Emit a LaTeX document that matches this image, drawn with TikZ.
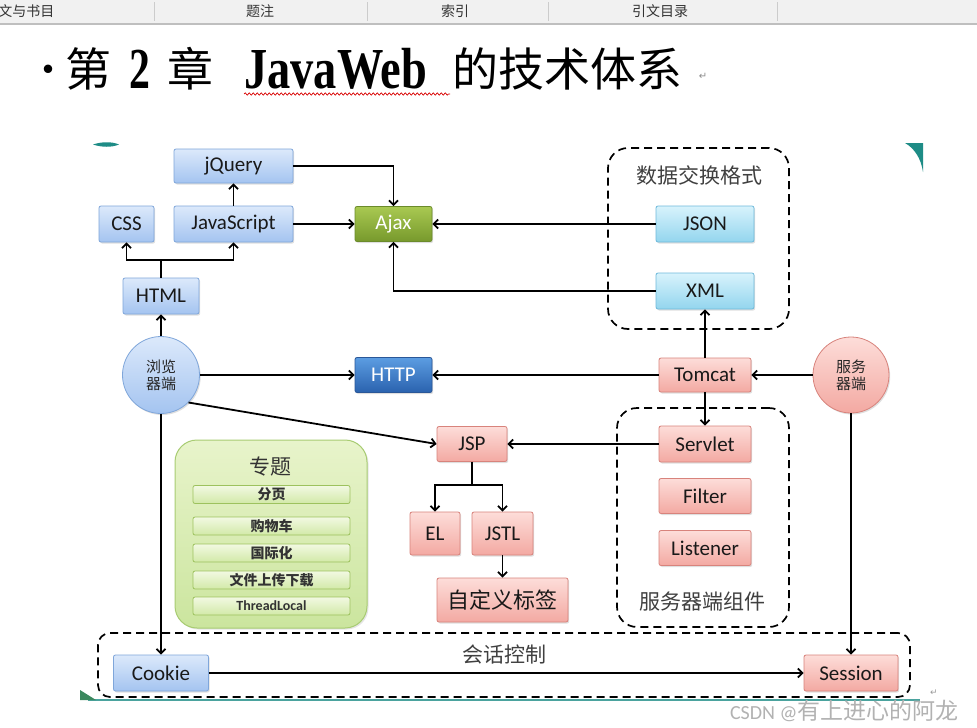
\documentclass[tikz,border=0pt]{standalone}
\usepackage{fontspec}
\usepackage{graphicx}
\setmainfont{Carlito}
\newfontfamily\cjk{Noto Sans CJK SC}
\newfontfamily\serifbold{Liberation Serif}
\newfontfamily\symb{DejaVu Sans}
\usetikzlibrary{shadows}
\usetikzlibrary{arrows.meta}
\usetikzlibrary{decorations.pathmorphing}

\definecolor{bluetop}{HTML}{DCE9FB}
\definecolor{bluebot}{HTML}{A4C4F0}
\definecolor{bluedraw}{HTML}{7FA6DA}
\definecolor{pinktop}{HTML}{FDDDD9}
\definecolor{pinkbot}{HTML}{F3A9A2}
\definecolor{pinkdraw}{HTML}{D8837C}
\definecolor{cyantop}{HTML}{D8F3FC}
\definecolor{cyanbot}{HTML}{93D5EE}
\definecolor{cyandraw}{HTML}{6FBADB}
\definecolor{ajaxtop}{HTML}{A9C952}
\definecolor{ajaxbot}{HTML}{77992C}
\definecolor{ajaxdraw}{HTML}{6B8B2B}
\definecolor{httptop}{HTML}{5C9DE2}
\definecolor{httpbot}{HTML}{2A62AE}
\definecolor{httpdraw}{HTML}{2A5798}
\definecolor{greentop}{HTML}{E8F4CB}
\definecolor{greenbot}{HTML}{CBE59E}
\definecolor{greendraw}{HTML}{A8CC72}
\definecolor{itemtop}{HTML}{F2F9E2}
\definecolor{itembot}{HTML}{D2E9A8}
\definecolor{itemdraw}{HTML}{9DC25E}
\definecolor{slideteal}{HTML}{1E8C86}
\definecolor{barfill}{HTML}{F1F1F1}

\begin{document}
\begin{tikzpicture}[x=1pt, y=-1pt, >={Straight Barb[length=4.5pt, width=9pt]},
    box/.style={rectangle, rounded corners=2pt, line width=0.8pt, inner sep=0pt,
        text=black!90, font=\fontsize{21}{24}\selectfont,
        drop shadow={opacity=0.25, shadow xshift=1.2pt, shadow yshift=-1.5pt}},
    bluebox/.style={box, draw=bluedraw, top color=bluetop, bottom color=bluebot},
    pinkbox/.style={box, draw=pinkdraw, top color=pinktop, bottom color=pinkbot},
    cyanbox/.style={box, draw=cyandraw, top color=cyantop, bottom color=cyanbot},
    ball/.style={circle, line width=0.8pt, inner sep=0pt, minimum size=77pt, align=center,
        font=\cjk\fontsize{15}{17}\selectfont, text=black!85,
        drop shadow={opacity=0.25, shadow xshift=1.2pt, shadow yshift=-1.5pt}},
    frame/.style={draw, dashed, dash pattern=on 8pt off 5pt, line width=1.7pt, rounded corners=20pt, inner sep=0pt},
    topicitem/.style={rectangle, rounded corners=2pt, draw=itemdraw, line width=0.8pt, top color=itemtop,
        bottom color=itembot, minimum width=157pt, minimum height=18pt, inner sep=0pt,
        font=\cjk\bfseries\fontsize{14}{16}\selectfont, text=black!80},
    grouplabel/.style={font=\cjk\fontsize{21}{24}\selectfont, text=black!75}]

  % page and word toolbar
  \useasboundingbox (0,0) rectangle (977,728);
  \fill[white] (0,0) rectangle (977,728);
  \fill[barfill] (0,0) rectangle (977,23);
  \draw[black!25, line width=1.2pt] (0,24) -- (977,24);
  \draw[black!20] (154,2) -- (154,21);
  \draw[black!20] (367,2) -- (367,21);
  \draw[black!20] (548,2) -- (548,21);
  \draw[black!20] (777,2) -- (777,21);
  \node[anchor=east, font=\cjk\fontsize{14}{16}\selectfont, text=black!80] (tab1) at (58,11) {文与书目};
  \node[font=\cjk\fontsize{14}{16}\selectfont, text=black!80] (tab2) at (260,11) {题注};
  \node[font=\cjk\fontsize{14}{16}\selectfont, text=black!80] (tab3) at (455,11) {索引};
  \node[font=\cjk\fontsize{14}{16}\selectfont, text=black!80] (tab4) at (660,11) {引文目录};

  % title line
  \node[font=\cjk\fontsize{40}{44}\selectfont] (dot) at (48,75) {·};
  \node[font=\cjk\fontsize{46}{50}\selectfont] (t1) at (88,69) {第};
  \node[font=\serifbold\bfseries\fontsize{58}{60}\selectfont] (t2) at (140,69) {\scalebox{0.72}[1]{2}};
  \node[font=\cjk\fontsize{46}{50}\selectfont] (t3) at (190,69) {章};
  \node[anchor=west, inner sep=0pt, font=\serifbold\bfseries\fontsize{58}{60}\selectfont] (t4) at (244,69) {\scalebox{0.8}[1]{JavaWeb}};
  \node[anchor=west, inner sep=0pt, font=\cjk\fontsize{46}{50}\selectfont] (t5) at (452,69) {的技术体系};
  \node[font=\symb\fontsize{10}{12}\selectfont, text=black!45] (ret1) at (703,76) {↵};
  \draw[red!85!black, line width=0.7pt, decorate, decoration={snake, amplitude=1.2pt, segment length=4pt}] (244,94) -- (450,94);

  % slide decorations
  \fill[slideteal] (93,144.5) .. controls (102,141.5) and (112,141.5) .. (119,144.5) .. controls (112,147.5) and (102,147.5) .. cycle;
  \fill[slideteal] (905,143) -- (923,143) -- (923,172) .. controls (921,158) and (914,148) .. cycle;
  \draw[slideteal!80, line width=1.4pt] (88,700) -- (920,700);
  \fill[slideteal!70!olive] (80,700) -- (96,700) -- (80,690) -- cycle;

  % group frames
  \node[frame, minimum width=181pt, minimum height=181pt] (fmtframe) at (698.5,238.5) {};
  \node[grouplabel] (fmtlabel) at (699,175) {数据交换格式};
  \node[frame, minimum width=172pt, minimum height=219pt] (compframe) at (703,517.5) {};
  \node[grouplabel] (complabel) at (702,602) {服务器端组件};
  \node[frame, rounded corners=12pt, minimum width=812pt, minimum height=64pt] (sessframe) at (504,665) {};
  \node[grouplabel] (sesslabel) at (504,655) {会话控制};

  % topics
  \node[rectangle, rounded corners=22pt, draw=greendraw, line width=1pt, top color=greentop, bottom color=greenbot,
        minimum width=192pt, minimum height=188pt, drop shadow={opacity=0.2, shadow xshift=1.5pt, shadow yshift=-1.5pt}] (topic) at (271,534) {};
  \node[grouplabel, text=black!80] (topiclabel) at (270,467) {专题};
  \node[topicitem] (paging) at (271.5,494.5) {分页};
  \node[topicitem] (cart) at (271.5,526) {购物车};
  \node[topicitem] (i18n) at (271.5,553) {国际化};
  \node[topicitem] (upload) at (271.5,580) {文件上传下载};
  \node[topicitem, font=\bfseries\fontsize{14}{16}\selectfont] (tlocal) at (271.5,606) {ThreadLocal};

  % browser side
  \node[bluebox, minimum width=119pt, minimum height=34pt] (jquery) at (233.5,166) {jQuery};
  \node[bluebox, minimum width=55pt, minimum height=36pt] (css) at (126.5,224) {CSS};
  \node[bluebox, minimum width=119pt, minimum height=36pt] (js) at (233.5,224) {JavaScript};
  \node[bluebox, minimum width=76pt, minimum height=36pt] (html) at (161,296) {HTML};
  \node[ball, draw=bluedraw, top color=bluetop, bottom color=bluebot] (browser) at (161,375) {浏览\\器端};
  \node[box, draw=ajaxdraw, top color=ajaxtop, bottom color=ajaxbot, text=white, minimum width=77pt, minimum height=35pt] (ajax) at (393.5,224) {Ajax};
  \node[box, draw=httpdraw, top color=httptop, bottom color=httpbot, text=white, minimum width=77pt, minimum height=35pt] (http) at (393.5,375) {HTTP};
  \node[bluebox, minimum width=95pt, minimum height=36pt] (cookie) at (161,673) {Cookie};
  \coordinate (htmlsplit) at (161,260);

  % server side
  \node[cyanbox, minimum width=98pt, minimum height=36pt] (json) at (705,224) {JSON};
  \node[cyanbox, minimum width=98pt, minimum height=36pt] (xml) at (705,291) {XML};
  \node[pinkbox, minimum width=92pt, minimum height=34pt] (tomcat) at (705,375) {Tomcat};
  \node[ball, draw=pinkdraw, top color=pinktop, bottom color=pinkbot, minimum size=76pt] (server) at (851,375) {服务\\器端};
  \node[pinkbox, minimum width=92pt, minimum height=36pt] (servlet) at (705,444) {Servlet};
  \node[pinkbox, minimum width=92pt, minimum height=35pt] (filter) at (705,496) {Filter};
  \node[pinkbox, minimum width=92pt, minimum height=35pt] (listener) at (705,548) {Listener};
  \node[pinkbox, minimum width=70pt, minimum height=35pt] (jsp) at (472,444) {JSP};
  \node[pinkbox, minimum width=50pt, minimum height=43pt] (el) at (435,533.5) {EL};
  \node[pinkbox, minimum width=61pt, minimum height=43pt] (jstl) at (502.5,533.5) {JSTL};
  \node[pinkbox, minimum width=131pt, minimum height=44pt, font=\cjk\fontsize{22}{24}\selectfont] (tag) at (502.5,600) {自定义标签};
  \node[pinkbox, minimum width=94pt, minimum height=36pt] (session) at (851,673) {Session};
  \coordinate (jspsplit) at (472,485);

  % connectors
  \draw[line width=1.8pt] (html) -- (htmlsplit);
  \draw[->, line width=1.8pt] (htmlsplit) -| (css);
  \draw[->, line width=1.8pt] (htmlsplit) -| (js);
  \draw[->, line width=1.8pt] (js) -- (jquery);
  \draw[->, line width=1.8pt] (jquery) -| (ajax);
  \draw[->, line width=1.8pt] (js) -- (ajax);
  \draw[->, line width=1.8pt] (json) -- (ajax);
  \draw[->, line width=1.8pt] (xml) -| (ajax);
  \draw[->, line width=1.8pt] (browser) -- (html);
  \draw[->, line width=1.8pt] (browser) -- (http);
  \draw[->, line width=1.8pt] (tomcat) -- (http);
  \draw[->, line width=1.8pt] (server) -- (tomcat);
  \draw[->, line width=1.8pt] (tomcat) -- (xml);
  \draw[->, line width=1.8pt] (tomcat) -- (servlet);
  \draw[->, line width=1.8pt] (servlet) -- (jsp);
  \draw[->, line width=1.8pt] (browser.-45) -- (jsp.west);
  \draw[line width=1.8pt] (jsp) -- (jspsplit);
  \draw[->, line width=1.8pt] (jspsplit) -| (el);
  \draw[->, line width=1.8pt] (jspsplit) -| (jstl);
  \draw[->, line width=1.8pt] (jstl) -- (tag);
  \draw[->, line width=1.8pt] (browser) -- (cookie);
  \draw[->, line width=1.8pt] (server) -- (session);
  \draw[->, line width=1.8pt] (cookie) -- (session);

  % watermark
  \node[font=\symb\fontsize{9}{10}\selectfont, text=black!40] (ret2) at (934,693) {↵};
  \node[anchor=east, text=black!30, font=\fontsize{20}{22}\selectfont] (mark) at (962,711) {CSDN @{\cjk\fontsize{23}{24}\selectfont 有上进心的阿龙}};
\end{tikzpicture}
\end{document}
